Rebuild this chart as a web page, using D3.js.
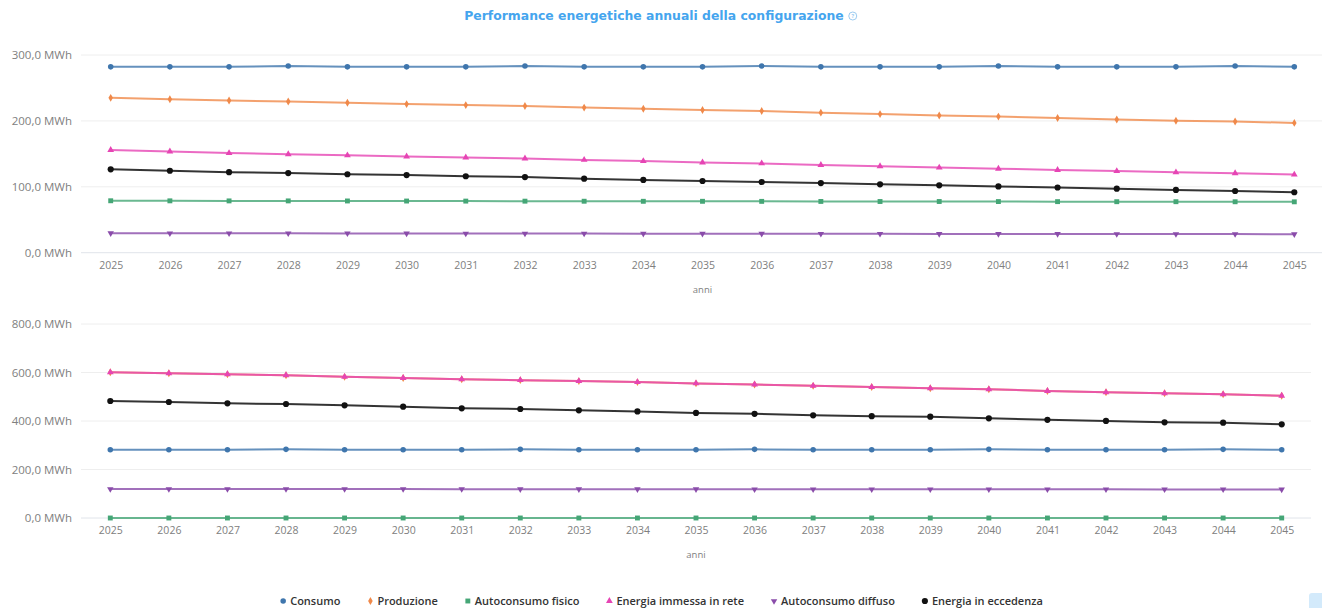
<!DOCTYPE html>
<html>
<head>
<meta charset="utf-8">
<script src="https://cdn.jsdelivr.net/npm/d3@7"></script>
<style>
  html, body { margin: 0; padding: 0; background: #fff; }
  svg { display: block; }
</style>
</head>
<body>
<svg id="chart" width="1322" height="608"></svg>
<script>
// Years on the x axis
const years = ["2025","2026","2027","2028","2029","2030","2031","2032","2033","2034","2035",
               "2036","2037","2038","2039","2040","2041","2042","2043","2044","2045"];

// Series names and colours
const seriesNames = ["Consumo", "Produzione", "Autoconsumo fisico",
                     "Energia immessa in rete", "Autoconsumo diffuso", "Energia in eccedenza"];
const seriesColors = ["#3f76ad", "#f0894a", "#45a676", "#e645b4", "#8a4caa", "#111111"];

// Upper chart (MWh)
const consumoA    = [282.0, 282.0, 282.0, 283.3, 282.0, 282.0, 282.0, 283.3, 282.0, 282.0, 282.0,
                     283.3, 282.0, 282.0, 282.0, 283.3, 282.0, 282.0, 282.0, 283.3, 282.0];
const produzioneA = [235.0, 232.8, 231.0, 229.5, 227.5, 225.5, 224.0, 222.5, 220.2, 218.5, 216.5,
                     215.0, 212.5, 210.3, 208.3, 206.5, 204.3, 202.2, 200.3, 199.0, 197.0];
const fisicoA     = [78.8, 78.7, 78.6, 78.6, 78.5, 78.4, 78.3, 78.2, 78.1, 78.0, 78.0,
                     77.9, 77.8, 77.7, 77.7, 77.6, 77.5, 77.4, 77.4, 77.3, 77.2];
const immessaA    = [155.8, 153.5, 151.2, 149.5, 147.8, 146.0, 144.5, 143.0, 140.8, 139.0, 137.0,
                     135.5, 133.2, 131.2, 129.2, 127.5, 125.5, 123.8, 122.0, 120.5, 118.5];
const diffusoA    = [29.6, 29.5, 29.4, 29.4, 29.3, 29.2, 29.1, 29.1, 29.0, 28.9, 28.8,
                     28.8, 28.7, 28.6, 28.5, 28.5, 28.4, 28.3, 28.3, 28.2, 28.1];
const eccedenzaA  = [126.5, 124.4, 122.2, 120.8, 119.0, 117.8, 116.0, 114.8, 112.4, 110.5, 108.8,
                     107.3, 105.6, 103.8, 102.2, 100.6, 98.9, 97.2, 95.3, 93.6, 91.7];

// Lower chart (MWh)
const consumoB    = [281.5, 281.5, 281.5, 283.0, 281.5, 281.5, 281.5, 283.0, 281.5, 281.5, 281.5,
                     283.0, 281.5, 281.5, 281.5, 283.0, 281.5, 281.5, 281.5, 283.0, 281.5];
const produzioneB = [600.8, 596.7, 592.6, 588.5, 582.0, 577.3, 572.0, 568.5, 564.5, 560.5, 555.0,
                     550.5, 545.0, 540.0, 534.8, 530.7, 524.0, 518.3, 514.2, 510.1, 504.3];
const fisicoB     = [0, 0, 0, 0, 0, 0, 0, 0, 0, 0, 0, 0, 0, 0, 0, 0, 0, 0, 0, 0, 0];
const immessaB    = [600.8, 596.7, 592.6, 588.5, 582.0, 577.3, 572.0, 568.5, 564.5, 560.5, 555.0,
                     550.5, 545.0, 540.0, 534.8, 530.7, 524.0, 518.3, 514.2, 510.1, 504.3];
const diffusoB    = [119.6, 119.5, 119.4, 119.3, 119.2, 119.1, 119.0, 118.9, 118.8, 118.8, 118.7,
                     118.6, 118.5, 118.4, 118.3, 118.3, 118.2, 118.1, 118.0, 118.0, 117.9];
const eccedenzaB  = [482.5, 478.4, 473.0, 470.0, 464.7, 459.0, 452.4, 449.5, 444.0, 439.5, 433.5,
                     429.5, 423.5, 420.0, 417.7, 411.0, 405.0, 400.5, 394.6, 393.0, 386.4];

// Y tick values for each chart
const ticksA = [0, 100, 200, 300];
const ticksB = [0, 200, 400, 600, 800];

const svg = d3.select("#chart");
const fmt = v => d3.format(".1f")(v).replace(".", ",") + " MWh";

// Highcharts-like marker cycle: circle, diamond, square, triangle, triangle-down, circle
const symbolTypes = [d3.symbolCircle, d3.symbolDiamond, d3.symbolSquare,
                     d3.symbolTriangle, d3.symbolTriangle, d3.symbolCircle];
const symbolSizes = [24, 18, 24, 20, 18, 30];
const symbolRot   = [0, 0, 0, 0, 180, 0];

// Title
const title = svg.append("text")
  .attr("x", 654).attr("y", 20)
  .attr("text-anchor", "middle")
  .attr("font-family", "'DejaVu Sans', sans-serif")
  .attr("font-weight", 700)
  .attr("font-size", 12.4)
  .attr("fill", "#45a5ee")
  .text("Performance energetiche annuali della configurazione");
const tb = title.node().getBBox();
const icon = svg.append("g").attr("transform", `translate(${tb.x + tb.width + 9},16)`);
icon.append("circle").attr("r", 4).attr("fill", "none").attr("stroke", "#9ccbf0").attr("stroke-width", 1);
icon.append("text").attr("y", 2).attr("text-anchor", "middle")
  .attr("font-family", "'Open Sans', sans-serif").attr("font-size", 5.5).attr("font-weight", 700)
  .attr("fill", "#9ccbf0").text("?");

function drawChart(cfg) {
  const x = d3.scalePoint().domain(years).range([cfg.x0, cfg.x1]);
  const y = d3.scaleLinear().domain([0, cfg.max]).range([cfg.y0, cfg.y1]);
  const g = svg.append("g");

  // Horizontal grid lines
  g.append("g")
    .selectAll("line").data(cfg.ticks).join("line")
    .attr("x1", cfg.gx0).attr("x2", cfg.gx1)
    .attr("y1", d => y(d)).attr("y2", d => y(d))
    .attr("stroke", d => d === 0 ? "#e0e4ea" : "#eeeeee")
    .attr("stroke-width", 1);

  // Y axis labels
  const yAxis = d3.axisLeft(y).tickValues(cfg.ticks).tickFormat(fmt).tickSize(0).tickPadding(0);
  g.append("g").attr("transform", `translate(${cfg.labelX},0)`).call(yAxis)
    .call(s => s.select(".domain").remove())
    .selectAll("text")
    .attr("font-family", "'Open Sans', sans-serif")
    .attr("font-size", 11.5)
    .attr("fill", "#808080");

  // X axis labels
  const xAxis = d3.axisBottom(x).tickSize(0).tickPadding(0);
  g.append("g").attr("transform", `translate(0,${cfg.y0 + 9})`).call(xAxis)
    .call(s => s.select(".domain").remove())
    .selectAll("text")
    .attr("font-family", "'Open Sans', sans-serif")
    .attr("font-size", 10.5)
    .attr("fill", "#808080");

  g.append("text")
    .attr("x", (cfg.x0 + cfg.x1) / 2).attr("y", cfg.y0 + 40)
    .attr("text-anchor", "middle")
    .attr("font-family", "'Open Sans', sans-serif")
    .attr("font-size", 9.5)
    .attr("fill", "#808080")
    .text("anni");

  const line = d3.line().x((d, i) => x(years[i])).y(d => y(d));

  cfg.series.forEach((vals, k) => {
    const sg = g.append("g");
    sg.append("path")
      .attr("d", line(vals))
      .attr("fill", "none")
      .attr("stroke", seriesColors[k])
      .attr("stroke-width", 2)
      .attr("stroke-opacity", k === 5 ? 0.85 : 0.8);
    const sym = d3.symbol().type(symbolTypes[k]).size(symbolSizes[k]);
    sg.selectAll("path.pt").data(vals).join("path")
      .attr("class", "pt")
      .attr("d", sym)
      .attr("transform", (d, i) => `translate(${x(years[i])},${y(d)}) rotate(${symbolRot[k]})`)
      .attr("fill", seriesColors[k]);
  });
}

drawChart({
  x0: 110.7, x1: 1294.3, gx0: 81, gx1: 1322,
  y0: 252.7, y1: 55, max: 300, ticks: ticksA, labelX: 72,
  series: [consumoA, produzioneA, fisicoA, immessaA, diffusoA, eccedenzaA]
});

drawChart({
  x0: 110.3, x1: 1281.7, gx0: 81, gx1: 1311,
  y0: 518, y1: 324, max: 800, ticks: ticksB, labelX: 72,
  series: [consumoB, produzioneB, fisicoB, immessaB, diffusoB, eccedenzaB]
});

// Legend
const legend = svg.append("g").attr("transform", "translate(0,601)");
const items = [];
seriesNames.forEach((name, k) => {
  const it = legend.append("g");
  const sym = d3.symbol().type(symbolTypes[k]).size(symbolSizes[k]);
  it.append("path").attr("d", sym).attr("transform", `rotate(${symbolRot[k]})`)
    .attr("fill", seriesColors[k]);
  const t = it.append("text").attr("x", 7).attr("y", 3.8)
    .attr("font-family", "'Open Sans', sans-serif")
    .attr("font-size", 11)
    .attr("font-weight", 600)
    .attr("fill", "#333")
    .text(name);
  const w = 7 + t.node().getComputedTextLength();
  items.push({ it, w });
});
const gap = 30;
const total = items.reduce((s, d) => s + d.w, 0) + gap * (items.length - 1) + 4;
let lx = 661 - total / 2 + 4;
items.forEach(d => {
  d.it.attr("transform", `translate(${lx},0)`);
  lx += d.w + gap;
});

// Small floating button in the corner
svg.append("rect").attr("x", 1309).attr("y", 593).attr("width", 20).attr("height", 20)
  .attr("rx", 3).attr("fill", "#d3eafb");
</script>
</body>
</html>
